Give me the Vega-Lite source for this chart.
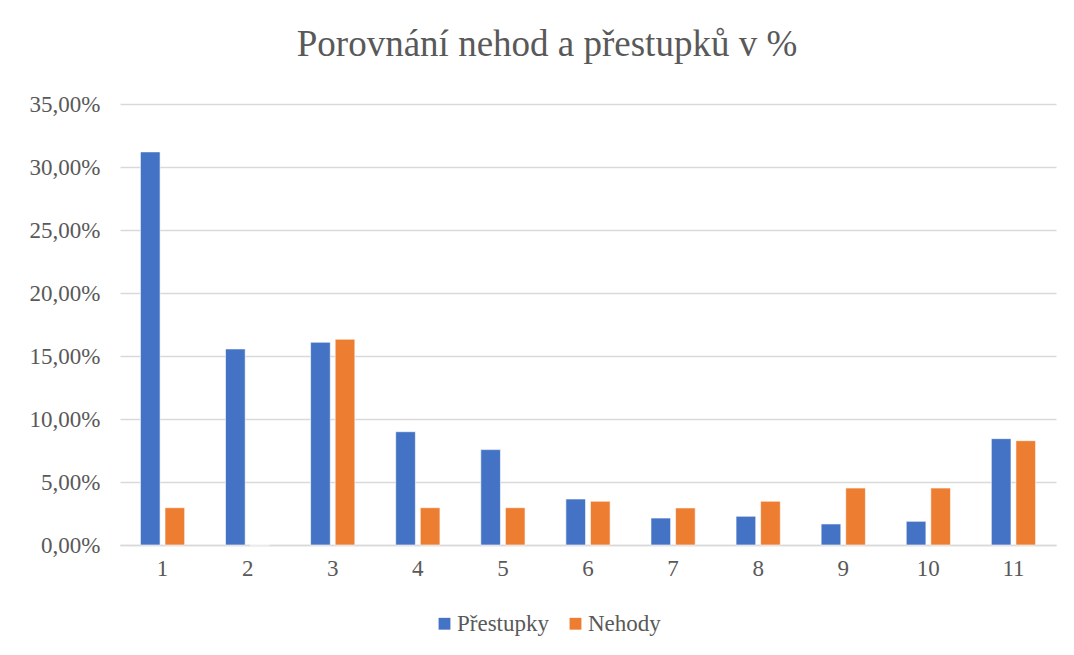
{
  "$schema": "https://vega.github.io/schema/vega-lite/v6.json",
  "width": 936,
  "height": 441,
  "autosize": {"type": "none"},
  "padding": {"left": 120, "top": 104, "right": 18, "bottom": 110},
  "background": "white",
  "title": {
    "text": "Porovnání nehod a přestupků v %",
    "font": "Liberation Serif",
    "fontSize": 37,
    "fontWeight": "normal",
    "color": "#595959",
    "anchor": "middle",
    "dx": -41,
    "offset": 0,
    "baseline": "alphabetic"
  },
  "data": {
    "values": [
      {"kat": "1", "serie": "Přestupky", "podil": 0.312},
      {"kat": "1", "serie": "Nehody", "podil": 0.0296},
      {"kat": "2", "serie": "Přestupky", "podil": 0.1556},
      {"kat": "2", "serie": "Nehody", "podil": 0},
      {"kat": "3", "serie": "Přestupky", "podil": 0.1609},
      {"kat": "3", "serie": "Nehody", "podil": 0.1633},
      {"kat": "4", "serie": "Přestupky", "podil": 0.0899},
      {"kat": "4", "serie": "Nehody", "podil": 0.0296},
      {"kat": "5", "serie": "Přestupky", "podil": 0.0757},
      {"kat": "5", "serie": "Nehody", "podil": 0.0296},
      {"kat": "6", "serie": "Přestupky", "podil": 0.0365},
      {"kat": "6", "serie": "Nehody", "podil": 0.0347},
      {"kat": "7", "serie": "Přestupky", "podil": 0.0214},
      {"kat": "7", "serie": "Nehody", "podil": 0.0294},
      {"kat": "8", "serie": "Přestupky", "podil": 0.0228},
      {"kat": "8", "serie": "Nehody", "podil": 0.0347},
      {"kat": "9", "serie": "Přestupky", "podil": 0.0167},
      {"kat": "9", "serie": "Nehody", "podil": 0.0452},
      {"kat": "10", "serie": "Přestupky", "podil": 0.0188},
      {"kat": "10", "serie": "Nehody", "podil": 0.0452},
      {"kat": "11", "serie": "Přestupky", "podil": 0.0844},
      {"kat": "11", "serie": "Nehody", "podil": 0.0828}
    ]
  },
  "mark": {"type": "bar", "stroke": "white", "strokeWidth": 0.6},
  "encoding": {
    "x": {
      "field": "kat",
      "type": "ordinal",
      "sort": ["1","2","3","4","5","6","7","8","9","10","11"],
      "scale": {"paddingInner": 0.48, "paddingOuter": 0.24},
      "axis": {
        "title": null,
        "labelAngle": 0,
        "labelFont": "Liberation Serif",
        "labelFontSize": 23,
        "labelColor": "#595959",
        "labelPadding": 12,
        "ticks": false,
        "domain": true,
        "domainColor": "#d9d9d9",
        "domainWidth": 1.5
      }
    },
    "xOffset": {
      "field": "serie",
      "type": "nominal",
      "sort": ["Přestupky", "Nehody"],
      "scale": {"paddingInner": 0.2, "paddingOuter": 0}
    },
    "y": {
      "field": "podil",
      "type": "quantitative",
      "scale": {"domain": [0, 0.35], "nice": false},
      "axis": {
        "title": null,
        "values": [0, 0.05, 0.1, 0.15, 0.2, 0.25, 0.3, 0.35],
        "labelExpr": "replace(format(datum.value, '.2%'), '.', ',')",
        "labelFont": "Liberation Serif",
        "labelFontSize": 23,
        "labelColor": "#595959",
        "labelPadding": 20,
        "ticks": false,
        "domain": false,
        "grid": true,
        "gridColor": "#d9d9d9",
        "gridWidth": 1.4
      }
    },
    "color": {
      "field": "serie",
      "type": "nominal",
      "sort": ["Přestupky", "Nehody"],
      "scale": {"domain": ["Přestupky", "Nehody"], "range": ["#4472C4", "#ED7D31"]},
      "legend": {
        "title": null,
        "orient": "none",
        "legendX": 313,
        "legendY": 508,
        "direction": "horizontal",
        "symbolType": "square",
        "symbolSize": 140,
        "symbolStrokeWidth": 0,
        "labelFont": "Liberation Serif",
        "labelFontSize": 23,
        "labelColor": "#595959",
        "labelOffset": 1,
        "columnPadding": 15
      }
    }
  },
  "config": {
    "view": {"stroke": null}
  }
}
